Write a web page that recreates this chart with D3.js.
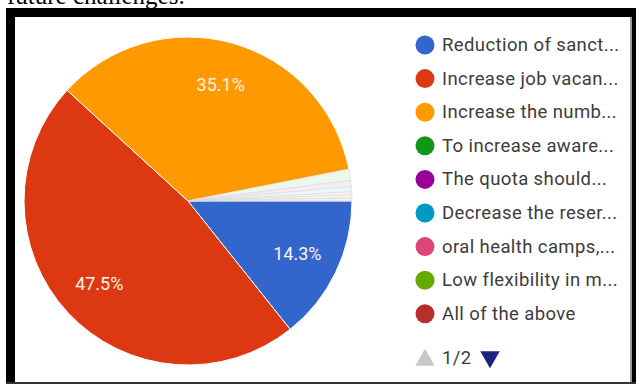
<!DOCTYPE html>
<html>
<head>
<meta charset="utf-8">
<script src="https://cdn.jsdelivr.net/npm/d3@7/dist/d3.min.js"></script>
<style>
  html, body { margin: 0; padding: 0; background: #fff; }
  svg { display: block; }
</style>
</head>
<body>
<svg id="chart" width="636" height="384"></svg>
<script>
// Survey responses (percent of respondents), page 1 of the legend
const categories = [
  "Reduction of sanct...",
  "Increase job vacan...",
  "Increase the numb...",
  "To increase aware...",
  "The quota should...",
  "Decrease the reser...",
  "oral health camps,...",
  "Low flexibility in m...",
  "All of the above"
];
const shares = [14.3, 47.5, 35.1, 1.1, 0.6, 0.5, 0.3, 0.3, 0.3];
const colors = ["#3366cc", "#dc3912", "#ff9900", "#109618", "#990099",
                "#0099c6", "#dd4477", "#66aa00", "#b82e2e"];
const pageLabel = "1/2";
const captionText = "future challenges.";

const svg = d3.select("#chart");

// Caption line above the framed figure
svg.append("text")
  .attr("x", 7).attr("y", 4)
  .attr("font-family", "'Liberation Serif', 'Times New Roman', serif")
  .attr("font-size", 25)
  .attr("fill", "#000")
  .text(captionText);

// Frame around the figure
const frame = svg.append("g");
frame.append("rect").attr("x", 15).attr("y", 17).attr("width", 617).attr("height", 365).attr("fill", "#fff");
frame.append("rect").attr("x", 6).attr("y", 8).attr("width", 630).attr("height", 9).attr("fill", "#000");
frame.append("rect").attr("x", 6).attr("y", 8).attr("width", 9).attr("height", 376).attr("fill", "#000");
frame.append("rect").attr("x", 632).attr("y", 8).attr("width", 4).attr("height", 376).attr("fill", "#000");
frame.append("rect").attr("x", 630).attr("y", 17).attr("width", 2).attr("height", 365).attr("fill", "#999");
frame.append("rect").attr("x", 6).attr("y", 382).attr("width", 630).attr("height", 2).attr("fill", "#333");

// Pie
const cx = 188, cy = 201, r = 164;
const pie = d3.pie().sort(null).value(d => d.v)
  .startAngle(Math.PI / 2).endAngle(Math.PI / 2 + 2 * Math.PI);
const data = categories.map((c, i) => ({ c, v: shares[i], color: colors[i], i }));
const arcs = pie(data);
const arc = d3.arc().innerRadius(0).outerRadius(r);
const labelArc = d3.arc().innerRadius(r * 0.74).outerRadius(r * 0.74);

const g = svg.append("g").attr("transform", `translate(${cx},${cy})`);
g.selectAll("path")
  .data(arcs)
  .join("path")
  .attr("d", arc)
  .attr("fill", d => d.data.v < 5 ? d3.interpolateRgb(d.data.color, "#fff")(0.92) : d.data.color)
  .attr("stroke", d => d.data.v < 5 ? "#d8d8d8" : "#fff")
  .attr("stroke-width", d => d.data.v < 5 ? 0.6 : 1);

// Percentage labels on the large slices
g.selectAll("text.pct")
  .data(arcs.filter(d => d.data.v >= 5))
  .join("text")
  .attr("class", "pct")
  .attr("transform", d => `translate(${labelArc.centroid(d)})`)
  .attr("text-anchor", "middle")
  .attr("dominant-baseline", "central")
  .attr("font-family", "Roboto, Arial, sans-serif")
  .attr("font-size", 18)
  .attr("fill", "#fdf3e6")
  .text(d => d.data.v.toFixed(1) + "%");

// Legend
const legendX = 425, legendY0 = 45, legendStep = 33.6;
const leg = svg.append("g");
const rows = leg.selectAll("g.item")
  .data(data)
  .join("g")
  .attr("class", "item")
  .attr("transform", (d, i) => `translate(${legendX},${legendY0 + i * legendStep})`);
rows.append("circle").attr("r", 9.5).attr("fill", d => d.color);
rows.append("text")
  .attr("x", 17).attr("y", 0)
  .attr("dominant-baseline", "central")
  .attr("font-family", "Roboto, Arial, sans-serif")
  .attr("font-size", 18.5)
  .attr("letter-spacing", 0.4)
  .attr("fill", "#3c3c3c")
  .text(d => d.c);

// Pager
const pagerY = 358;
leg.append("path")
  .attr("d", d3.symbol(d3.symbolTriangle, 165)())
  .attr("transform", `translate(${legendX},${pagerY + 2})`)
  .attr("fill", "#c8c8c8");
leg.append("text")
  .attr("x", legendX + 17).attr("y", pagerY)
  .attr("dominant-baseline", "central")
  .attr("font-family", "Roboto, Arial, sans-serif")
  .attr("font-size", 18.5)
  .attr("letter-spacing", 0.4)
  .attr("fill", "#3c3c3c")
  .text(pageLabel);
leg.append("path")
  .attr("d", d3.symbol(d3.symbolTriangle, 165)())
  .attr("transform", `translate(${legendX + 65},${pagerY - 1}) rotate(180)`)
  .attr("fill", "#1a237e");
</script>
</body>
</html>
